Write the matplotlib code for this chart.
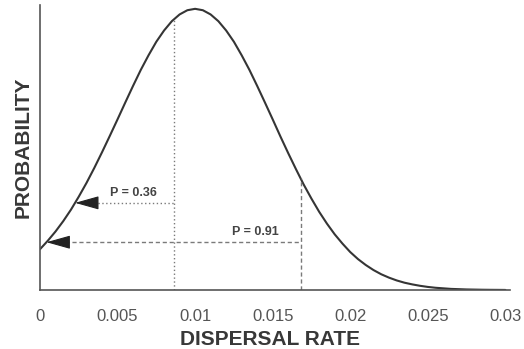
#!/usr/bin/env python3
"""Dispersal rate probability curve with two annotated quantiles."""

import matplotlib

matplotlib.use("Agg")
import matplotlib.pyplot as plt
import numpy as np

# curve, relative height, every 0.0005 of dispersal rate
rate = np.arange(61) * 0.0005
prob = [
    0.145, 0.175, 0.208, 0.245, 0.286, 0.332, 0.381, 0.434, 0.490, 0.548,
    0.607, 0.667, 0.726, 0.783, 0.835, 0.883, 0.923, 0.956, 0.980, 0.995,
    1.000, 0.995, 0.980, 0.956, 0.923, 0.883, 0.835, 0.783, 0.726, 0.667,
    0.607, 0.546, 0.487, 0.430, 0.375, 0.325, 0.278, 0.236, 0.198, 0.165,
    0.135, 0.110, 0.089, 0.071, 0.056, 0.044, 0.034, 0.026, 0.020, 0.015,
    0.011, 0.008, 0.006, 0.004, 0.003, 0.002, 0.0015, 0.001, 0.0007, 0.0005,
    0.0003,
]

xticks = [0, 0.005, 0.01, 0.015, 0.02, 0.025, 0.03]
xtick_labels = ["0", "0.005", "0.01", "0.015", "0.02", "0.025", "0.03"]

# the two marked quantiles: where the vertical sits and the arrow level
quant_labels = ["P = 0.36", "P = 0.91"]
quant_rate = [0.00865, 0.0168]
arrow_level = [0.31, 0.17]
label_pos = [(0.0060, 0.345), (0.0139, 0.205)]
line_styles = [(0, (1, 1.8)), (0, (3, 2))]

plt.rcParams["font.family"] = ["Liberation Sans", "DejaVu Sans"]

fig = plt.figure(figsize=(5.24, 3.49), dpi=100)
ax = fig.add_axes([0.0763, 0.169, 0.897, 0.817])

prob = np.array(prob)
ax.plot(rate, prob, color="#353535", lw=1.5, solid_capstyle="round")

# rising half of the curve, used to find where the arrows touch it
rise = slice(0, 21)

for i, label in enumerate(quant_labels):
    q = quant_rate[i]
    top = np.interp(q, rate, prob)
    lvl = arrow_level[i]
    tip = np.interp(lvl, prob[rise], rate[rise])
    ls = line_styles[i]

    ax.plot([q, q], [0, top], color="#7a7a7a", lw=1.0, linestyle=ls)
    ax.plot([tip + 0.0012, q], [lvl, lvl], color="#7a7a7a", lw=1.0, linestyle=ls)
    ax.annotate(
        "",
        xy=(tip, lvl),
        xytext=(tip + 0.0013, lvl),
        arrowprops=dict(
            arrowstyle="-|>,head_length=1.5,head_width=0.42",
            mutation_scale=10,
            color="#222222",
            lw=0.8,
            shrinkA=0,
            shrinkB=0,
        ),
    )
    ax.text(
        label_pos[i][0],
        label_pos[i][1],
        label,
        fontsize=9,
        fontweight="bold",
        color="#444444",
        ha="center",
        va="center",
    )

ax.set_xlim(0, 0.0303)
ax.set_ylim(0, 1.014)
ax.set_xticks(xticks)
ax.set_xticklabels(xtick_labels)
ax.set_yticks([])
ax.tick_params(axis="x", length=0, pad=14, labelsize=12, labelcolor="#555555")

for side in ["top", "right"]:
    ax.spines[side].set_visible(False)
for side in ["left", "bottom"]:
    ax.spines[side].set_color("#555555")
    ax.spines[side].set_linewidth(1.2)

ax.set_xlabel("DISPERSAL RATE", fontsize=15, fontweight="bold", color="#383838")
ax.xaxis.set_label_coords(0.489, -0.14)
ax.set_ylabel("PROBABILITY", fontsize=15, fontweight="bold", color="#383838")
ax.yaxis.set_label_coords(-0.016, 0.5)

fig.savefig("out.png", dpi=100, facecolor="white")
